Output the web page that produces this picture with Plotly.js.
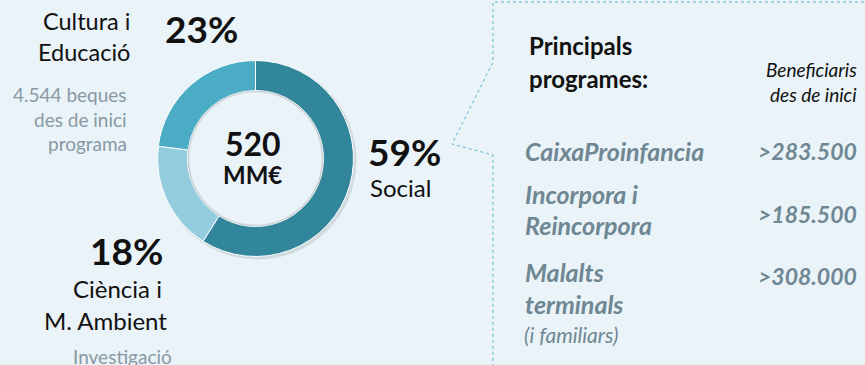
<!DOCTYPE html>
<html>
<head>
<meta charset="utf-8">
<script src="https://cdn.plot.ly/plotly-3.0.1.min.js"></script>
<style>
  html, body { margin: 0; padding: 0; background: #e9f3f8; }
  #chart { width: 865px; height: 365px; }
</style>
</head>
<body>
<div id="chart"></div>
<script>
// donut data
var areas = ['Social', 'Ciència i M. Ambient', 'Cultura i Educació'];
var shares = [59, 18, 23];
var sliceColors = ['#31869b', '#93cddd', '#4bacc6'];
var totalLabel = '520';
var totalUnit = 'MM€';

// programmes box
var programNames = [['CaixaProinfancia'], ['Incorpora i', 'Reincorpora'], ['Malalts', 'terminals']];
var beneficiaries = ['>283.500', '>185.500', '>308.000'];

var W = 865, H = 365;
var BG = '#e9f3f8';
function px(x) { return x / W; }
function py(y) { return 1 - y / H; }

var FONT = 'Lato, "Open Sans", sans-serif';
var GREY = '#8899a3';
var PROG = '#6f8793';

function note(txt, x, y, size, opts) {
  opts = opts || {};
  return {
    xref: 'paper', yref: 'paper', x: px(x), y: py(y),
    xanchor: opts.anchor || 'center', yanchor: 'middle',
    text: txt, showarrow: false,
    align: opts.align || 'center',
    font: { family: FONT, size: size, color: opts.color || '#111111' }
  };
}

var cx = 255.5, cy = 158.5, R = 98, r = 68;

var trace = {
  type: 'pie',
  values: shares,
  labels: areas,
  hole: r / R,
  sort: false,
  direction: 'clockwise',
  rotation: 0,
  textinfo: 'none',
  hoverinfo: 'label+percent',
  showlegend: false,
  marker: { colors: sliceColors, line: { color: '#ffffff', width: 1 } },
  domain: { x: [px(cx - R), px(cx + R)], y: [py(cy + R), py(cy - R)] }
};

var ann = [];
// percentages + area labels
ann.push(note('<b>' + shares[2] + '%</b>', 201, 28, 37));
ann.push(note('Cultura i', 132, 21, 23.5, { anchor: 'right' }));
ann.push(note('Educació', 132, 52, 23.5, { anchor: 'right' }));
ann.push(note('4.544 beques', 129, 94, 19, { anchor: 'right', color: GREY }));
ann.push(note('des de inici', 129, 119, 19, { anchor: 'right', color: GREY }));
ann.push(note('programa', 129, 143, 19, { anchor: 'right', color: GREY }));

ann.push(note('<b>' + shares[1] + '%</b>', 126, 250, 37));
ann.push(note('Ciència i', 118, 288, 24));
ann.push(note('M. Ambient', 105, 320, 24));
ann.push(note('Investigació', 122, 356, 19, { color: GREY }));

ann.push(note('<b>' + shares[0] + '%</b>', 404, 151, 37));
ann.push(note('Social', 368, 187, 24, { anchor: 'left' }));

// centre
ann.push(note('<b>' + totalLabel + '</b>', 253, 144, 32));
ann.push(note('<b>' + totalUnit + '</b>', 252, 175, 24));

// programmes box
ann.push(note('<b>Principals</b>', 527, 45, 24, { anchor: 'left' }));
ann.push(note('<b>programes:</b>', 527, 78, 24, { anchor: 'left' }));
ann.push(note('<i>Beneficiaris</i>', 859, 69, 19, { anchor: 'right' }));
ann.push(note('<i>des de inici</i>', 859, 94, 19, { anchor: 'right' }));

var rowTop = [150.5, 193.5, 271.5];
var rowVal = [150.5, 213.5, 275.5];
for (var i = 0; i < programNames.length; i++) {
  for (var j = 0; j < programNames[i].length; j++) {
    ann.push(note('<b><i>' + programNames[i][j] + '</i></b>', 523, rowTop[i] + j * 32, 25, { anchor: 'left', color: PROG }));
  }
  ann.push(note('<b><i>' + beneficiaries[i] + '</i></b>', 859, rowVal[i], 23, { anchor: 'right', color: PROG }));
}
ann.push(note('<i>(i familiars)</i>', 522, 334, 21, { anchor: 'left', color: PROG }));

// dotted callout border
function pt(x, y) { return px(x) + ',' + py(y); }
var border = 'M' + pt(870, 2) + ' L' + pt(493, 2) + ' L' + pt(493, 62) + ' L' + pt(452, 144) +
             ' L' + pt(493, 155) + ' L' + pt(493, 370);

var shapes = [
  // soft drop shadow behind the ring
  { type: 'circle', xref: 'paper', yref: 'paper', layer: 'below',
    x0: px(cx - R + 1), x1: px(cx + R + 3), y0: py(cy + R + 3), y1: py(cy - R + 1),
    fillcolor: 'rgba(0,0,0,0.10)', line: { width: 0 } },
  // hole, with faint inner shadow edge
  { type: 'circle', xref: 'paper', yref: 'paper',
    x0: px(cx - r + 1), x1: px(cx + r - 1), y0: py(cy + r - 1), y1: py(cy - r + 1),
    fillcolor: BG, line: { color: 'rgba(0,0,0,0.09)', width: 2 } },
  { type: 'path', xref: 'paper', yref: 'paper', path: border,
    line: { color: '#5ab8d0', width: 1, dash: 'dot' } }
];

var layout = {
  width: W, height: H,
  margin: { l: 0, r: 0, t: 0, b: 0 },
  paper_bgcolor: BG,
  plot_bgcolor: BG,
  annotations: ann,
  shapes: shapes,
  showlegend: false
};

Plotly.newPlot('chart', [trace], layout, { displayModeBar: false, staticPlot: true });
</script>
</body>
</html>
